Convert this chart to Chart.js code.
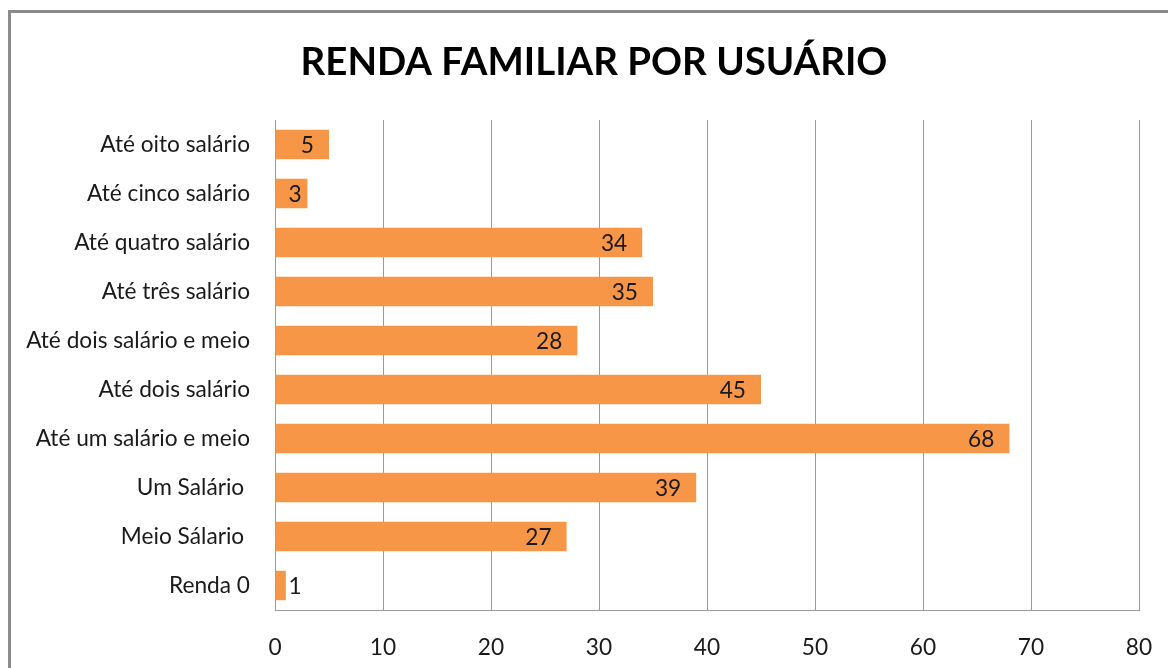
<!DOCTYPE html>
<html>
<head>
<meta charset="utf-8">
<script src="https://cdn.jsdelivr.net/npm/chart.js@4.4.1/dist/chart.umd.min.js"></script>
<style>
  html, body { margin: 0; padding: 0; background: #fff; overflow: hidden; }
  #wrap { position: relative; width: 1168px; height: 668px; }
  #frame { position: absolute; left: 8px; top: 10px; width: 1200px; height: 700px; border: 3px solid #8a8a8a; box-sizing: border-box; }
  canvas { position: absolute; left: 0; top: 0; }
</style>
</head>
<body>
<div id="wrap">
  <div id="frame"></div>
  <canvas id="c" width="1168" height="668"></canvas>
</div>
<script>
const categories = [
  "Até oito salário",
  "Até cinco salário",
  "Até quatro salário",
  "Até três salário",
  "Até dois salário e meio",
  "Até dois salário",
  "Até um salário e meio",
  "Um Salário ",
  "Meio Sálario ",
  "Renda 0"
];
const values = [5, 3, 34, 35, 28, 45, 68, 39, 27, 1];
const xTicks = [0, 10, 20, 30, 40, 50, 60, 70, 80];
const titleText = "RENDA FAMILIAR POR USUÁRIO";

const FAMILY = "Lato, 'Open Sans', sans-serif";

function fitSize(text, weight, target) {
  const ctx = document.createElement('canvas').getContext('2d');
  ctx.font = weight + ' 100px ' + FAMILY;
  const w = ctx.measureText(text).width;
  return 100 * target / w;
}

const labelPlugin = {
  id: 'barLabels',
  afterDatasetsDraw(chart) {
    const ctx = chart.ctx;
    const meta = chart.getDatasetMeta(0);
    const xs = chart.scales.x;
    const base = xs.getPixelForValue(0);
    ctx.save();
    ctx.font = chart.$labelFont;
    ctx.fillStyle = '#1a1a1a';
    ctx.textAlign = 'center';
    ctx.textBaseline = 'middle';
    meta.data.forEach((bar, i) => {
      const txt = String(values[i]);
      const tw = ctx.measureText(txt).width;
      let cx = bar.x - tw / 2 - 15;
      cx = Math.max(cx, base + 20);
      ctx.fillText(txt, cx, bar.y + 1);
    });
    ctx.restore();
  }
};

const titlePlugin = {
  id: 'customTitle',
  afterDraw(chart) {
    const ctx = chart.ctx;
    ctx.save();
    ctx.font = chart.$titleFont;
    ctx.fillStyle = '#000';
    ctx.textAlign = 'center';
    ctx.textBaseline = 'middle';
    ctx.fillText(titleText, 594, 63);
    ctx.restore();
  }
};

function build() {
  const tickSize = fitSize("Até dois salário e meio", 'normal', 224);
  const titleSize = fitSize(titleText, 'bold', 587);
  const ctx = document.getElementById('c').getContext('2d');
  const chart = new Chart(ctx, {
    type: 'bar',
    data: {
      labels: categories,
      datasets: [{
        data: values,
        backgroundColor: '#F79646',
        borderWidth: 0,
        barPercentage: 0.6,
        categoryPercentage: 1.0
      }]
    },
    plugins: [labelPlugin, titlePlugin],
    options: {
      indexAxis: 'y',
      responsive: false,
      animation: false,
      devicePixelRatio: 1,
      layout: { padding: { left: 10, right: 29, top: 120, bottom: 0 } },
      plugins: {
        legend: { display: false },
        tooltip: { enabled: false },
        title: { display: false }
      },
      scales: {
        x: {
          min: 0, max: 80,
          afterBuildTicks(scale) { scale.ticks = xTicks.map(v => ({ value: v })); },
          afterFit(scale) { scale.height = 58; scale.paddingRight = 0; scale.paddingLeft = 0; },
          grid: { color: '#9a9a9a', lineWidth: 1, drawTicks: false },
          border: { color: '#9a9a9a', width: 1 },
          ticks: { color: '#1a1a1a', padding: 24, font: { family: FAMILY, size: tickSize } }
        },
        y: {
          afterFit(scale) { scale.width = 265; scale.paddingTop = 0; scale.paddingBottom = 0; },
          grid: { display: false, drawTicks: false },
          border: { color: '#9a9a9a', width: 1 },
          ticks: { color: '#1a1a1a', padding: 25, autoSkip: false, font: { family: FAMILY, size: tickSize } }
        }
      }
    }
  });
  chart.$labelFont = 'normal ' + tickSize + 'px ' + FAMILY;
  chart.$titleFont = 'bold ' + titleSize + 'px ' + FAMILY;
  chart.draw();
}

Promise.all([
  document.fonts.load('20px Lato'),
  document.fonts.load('bold 20px Lato')
]).then(build, build);
</script>
</body>
</html>
